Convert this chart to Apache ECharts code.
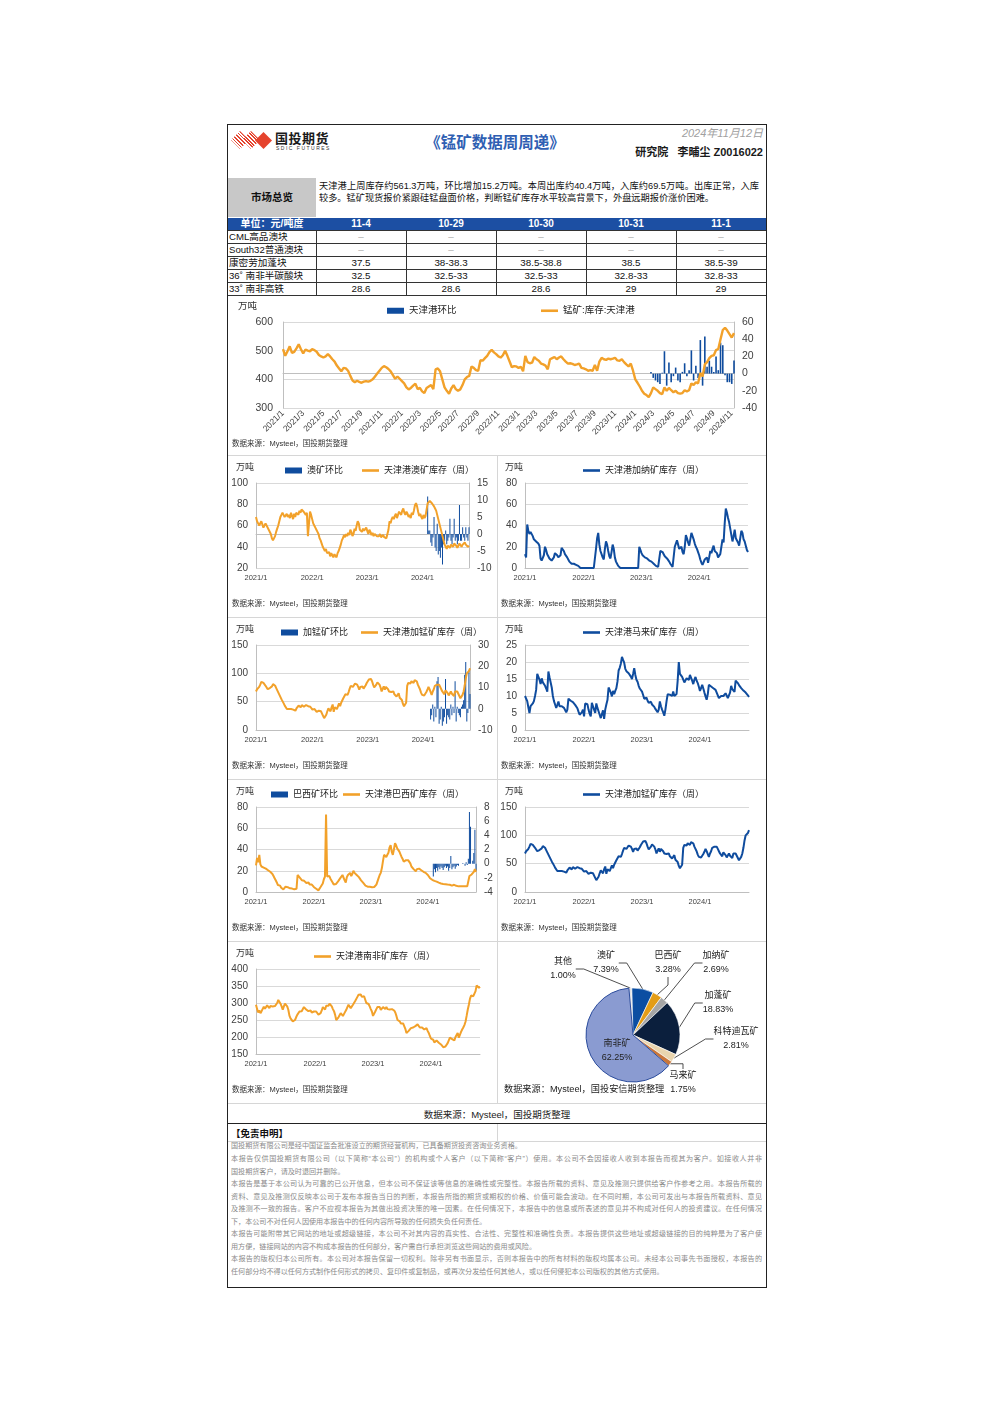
<!DOCTYPE html>
<html lang="zh-CN">
<head>
<meta charset="utf-8">
<title>锰矿数据周周递</title>
<script src="https://cdn.jsdelivr.net/npm/echarts@6.0.0/dist/echarts.min.js"></script>
<style>
html,body{margin:0;padding:0;background:#fff;}
body{width:992px;height:1403px;position:relative;font-family:"Liberation Sans","Noto Sans CJK SC",sans-serif;color:#111;overflow:hidden;}
.a{position:absolute;white-space:nowrap;}
.ch{position:absolute;}
.hl{position:absolute;height:1px;background:#d6d6d6;}
.vl{position:absolute;width:1px;background:#d6d6d6;}
.dl{position:absolute;left:231px;width:531px;font-size:7.1px;line-height:10px;height:10px;overflow:hidden;color:#8a8a8a;white-space:nowrap;}
.dj{text-align:justify;text-align-last:justify;white-space:normal;}
</style>
</head>
<body>
<div class="a" style="left:227px;top:124px;width:538px;height:1162px;border:1px solid #222;"></div>

<!-- header -->
<div class="a" style="left:231px;top:131px;width:18px;height:18px;background:repeating-linear-gradient(45deg,#e5432d 0 1.2px,#fff 1.2px 2.6px);clip-path:polygon(50% 0,100% 50%,50% 100%,0 50%);"></div>
<div class="a" style="left:242px;top:131px;width:18px;height:18px;background:repeating-linear-gradient(45deg,#e5432d 0 1.4px,#fff 1.4px 2.6px);clip-path:polygon(50% 0,100% 50%,50% 100%,0 50%);"></div>
<div class="a" style="left:255px;top:132px;width:17px;height:17px;background:#e5432d;clip-path:polygon(50% 0,100% 50%,50% 100%,0 50%);"></div>
<div class="a" style="left:275px;top:131px;font-size:13px;font-weight:bold;letter-spacing:0.5px;color:#1a1a1a;line-height:15px;">国投期货</div>
<div class="a" style="left:276px;top:146px;font-size:5px;letter-spacing:1.5px;color:#333;line-height:5px;">SDIC FUTURES</div>
<div class="a" style="left:395px;top:134px;width:200px;text-align:center;font-size:15.5px;font-weight:bold;color:#2f5fb3;line-height:18px;">《锰矿数据周周递》</div>
<div class="a" style="right:229px;top:126px;font-size:11px;font-style:italic;color:#a0a0a0;line-height:14px;">2024年11月12日</div>
<div class="a" style="right:229px;top:145px;font-size:11px;font-weight:bold;color:#1a1a1a;line-height:14px;">研究院&nbsp;&nbsp;&nbsp;李晡尘 Z0016022</div>

<!-- summary -->
<div class="a" style="left:228px;top:178px;width:88px;height:39px;background:#c8c8c8;"></div>
<div class="a" style="left:228px;top:190px;width:88px;text-align:center;font-size:10.5px;font-weight:bold;line-height:14px;">市场总览</div>
<div class="a" style="left:319px;top:180px;width:440px;font-size:9.2px;line-height:12px;text-align:justify;text-align-last:justify;white-space:normal;">天津港上周库存约561.3万吨，环比增加15.2万吨。本周出库约40.4万吨，入库约69.5万吨。出库正常，入库</div>
<div class="a" style="left:319px;top:192px;font-size:9.2px;line-height:12px;">较多。锰矿现货报价紧跟硅锰盘面价格，判断锰矿库存水平较高背景下，外盘远期报价涨价困难。</div>

<div id="tbl"></div>

<!-- cell grid lines -->
<div class="hl" style="left:228px;top:455px;width:538px;"></div>
<div class="hl" style="left:228px;top:617px;width:538px;"></div>
<div class="hl" style="left:228px;top:779px;width:538px;"></div>
<div class="hl" style="left:228px;top:941px;width:538px;"></div>
<div class="hl" style="left:228px;top:1103px;width:538px;"></div>
<div class="vl" style="left:497px;top:455px;height:648px;"></div>

<div id="c0" class="ch" style="left:228px;top:296px;width:537px;height:158px;"></div>
<div id="c1" class="ch" style="left:228px;top:456px;width:269px;height:160px;"></div>
<div id="c2" class="ch" style="left:498px;top:456px;width:267px;height:160px;"></div>
<div id="c3" class="ch" style="left:228px;top:618px;width:269px;height:160px;"></div>
<div id="c4" class="ch" style="left:498px;top:618px;width:267px;height:160px;"></div>
<div id="c5" class="ch" style="left:228px;top:780px;width:269px;height:160px;"></div>
<div id="c6" class="ch" style="left:498px;top:780px;width:267px;height:160px;"></div>
<div id="c7" class="ch" style="left:228px;top:942px;width:269px;height:160px;"></div>
<div id="c8" class="ch" style="left:498px;top:942px;width:267px;height:160px;"></div>

<!-- footer -->
<div class="a" style="left:228px;top:1108px;width:538px;text-align:center;font-size:9.5px;line-height:14px;color:#222;">数据来源：Mysteel，国投期货整理</div>
<div class="a" style="left:228px;top:1123px;width:538px;height:1px;background:#222;"></div>
<div class="vl" style="left:497px;top:1124px;height:17px;"></div>
<div class="hl" style="left:228px;top:1141px;width:538px;"></div>
<div class="a" style="left:231px;top:1127px;font-size:9.5px;font-weight:bold;line-height:14px;color:#111;">【免责申明】</div>
<div id="disc"></div>

<script>
// ---------------- data ----------------
const WEEK_START = Date.UTC(2021, 0, 1);
const WEEK_COUNT = 202;
const weeks = [];
for (let i = 0; i < WEEK_COUNT; i++) {
  const d = new Date(WEEK_START + i * 7 * 86400000);
  weeks.push(d.getUTCFullYear() + '-' + (d.getUTCMonth() + 1) + '-' + d.getUTCDate());
}

// 锰矿:库存:天津港 (万吨, weekly)
const tianjinStock = [
505,482,498,515,492,496,508,522,505,490,
504,500,498,505,502,496,485,480,476,480,
488,480,470,462,448,438,428,440,438,430,
412,396,390,395,391,388,392,394,392,395,
400,410,420,430,440,446,442,436,428,415,
402,410,402,394,386,372,365,370,378,385,
366,370,358,352,370,375,380,366,435,438,
428,400,372,360,350,368,380,366,360,365,
380,400,408,412,445,440,432,430,467,465,
474,482,495,503,494,488,480,476,484,500,
482,462,442,446,445,440,444,428,482,460,
456,458,478,470,465,455,452,448,435,470,
474,478,470,476,480,470,462,455,456,454,
450,452,455,440,438,435,430,432,430,450,
430,462,475,470,468,472,470,472,475,466,
465,470,460,452,445,455,430,400,388,375,
360,350,345,338,352,372,366,360,352,348,
372,360,370,362,355,360,352,350,352,362,
358,362,386,380,390,386,422,410,452,460,
474,482,484,502,506,540,572,580,570,558,
546,561];
// 天津港环比 (万吨), from week 2024-2-23
const tianjinChangeStart = '2024-2-23';
const tianjinChange = [
2,-5,-8,-10,-12,1,26,-14,13,-10,
-3,7,-8,-10,2,12,-3,4,27,-8,
9,-5,39,-14,43,8,15,8,2,20,
4,36,33,-2,-10,-10,-12,15.2];

// 天津港澳矿库存（周）
const auStock = [
68,64,62,60,59,64,61,58,57,62,
60,59,56,55,52,48,46,45,50,54,
57,60,64,68,70,72,70,68,69,71,
68,70,67,72,69,66,71,68,72,73,
70,74,72,75,76,73,74,70,72,50,
62,73,70,66,62,60,58,56,54,52,
48,46,43,40,38,36,38,34,33,35,
31,34,32,30,33,32,30,34,36,39,
42,46,48,51,49,52,50,53,51,56,
54,50,52,57,55,60,64,62,56,55,
54,57,55,56,58,55,52,56,54,51,
53,50,52,51,50,51,50,52,49,50,
51,49,50,48,49,56,64,62,66,68,
66,69,71,67,70,73,72,70,74,76,
72,70,73,71,68,70,67,72,70,74,
79,81,78,73,69,71,68,66,70,67,
69,70,81,80,83,84,81,80,78,76,
74,70,66,62,58,54,50,46,42,40,
38,41,40,39,42,41,40,43,42,41,
39,41,43,42,40,42,41,44,42,41,
40,41];
const auChangeStart = '2024-2-9';
const auChange = [
11,1,1,-2.5,-3.5,-1,5,-4,-5,3,
-6,-5,-7,-4,-9,-3,-2,1,-3,-2,
-1,4.5,-2,-3,-1,4.5,-2,-1,-3,-2,
8.5,-2,-2,2,-1,-2,2,-1,-2,2];

// 天津港加纳矿库存（周）
const ghStock = [
13,10,41,35,32,34,33,30,27,26,
25,25,23,21,9,7,8,12,20,17,
13,11,9,8,7,6,10,14,14,12,
10,9,12,19,18,16,13,12,10,8,
6,5,4,4,4,4,3,3,2,1,
0,0,0,0,0,0,0,0,0,0,
0,0,0,0,18,28,33,22,16,13,
10,8,18,25,22,16,11,9,15,22,
18,10,6,4,2,1,0,0,0,0,
0,0,0,0,0,0,0,0,0,0,
0,0,0,20,17,14,12,11,10,9,
9,8,7,7,6,5,4,3,2,1,
1,0,16,16,15,13,11,10,9,8,
6,4,3,1,0,20,19,26,22,18,
17,20,15,13,20,31,28,24,21,27,
33,30,27,23,20,18,15,12,8,5,
3,2,8,7,10,5,10,16,14,18,
21,16,15,14,10,9,13,20,27,24,
42,56,52,47,43,37,31,25,30,36,
28,27,24,21,28,35,33,27,25,21,
17,15];

// 天津港加锰矿库存（周）
const gabonStock = [
68,72,74,76,80,85,84,83,82,78,
75,72,71,74,76,77,81,83,78,74,
70,67,62,58,54,51,47,43,40,37,
39,37,35,37,38,36,35,34,38,41,
43,41,40,44,42,41,43,44,44,42,
40,41,38,36,38,37,35,32,30,34,
35,33,30,25,21,19,27,33,38,36,
33,40,45,32,40,42,37,39,47,42,
48,50,56,59,63,66,62,67,73,78,
80,76,78,82,85,80,76,71,76,78,
77,73,74,79,83,85,89,91,90,86,
80,75,76,80,84,86,80,75,68,73,
77,71,76,79,72,68,71,67,65,68,
63,61,59,62,65,57,55,53,46,42,
40,48,78,83,80,82,86,84,83,88,
91,86,80,77,72,66,62,59,61,62,
67,71,76,72,67,62,68,72,78,76,
80,83,80,76,72,68,65,63,70,68,
65,61,64,68,64,62,60,68,70,68,
64,60,56,58,62,68,78,91,100,97,
104,109];
const gabonChangeStart = '2024-2-23';
const gabonChange = [
-5,-3,2,-6,1,-4,13,15,-7,-5,
1,-8,-6,-4,14,-7,-3,-4,-5,2,
-3,1,-2,13,-6,1,-2,-3,-4,1,
2,4,16,22,-6,-2,18,7];

// 天津港马来矿库存（周）
const myStock = [
10,9.5,8.5,6.7,5,7,7.4,7.8,8.5,10,
11.8,16.5,16.8,14.8,13.5,15.2,14,14.5,13,12.2,
11.3,17.2,15.5,16,12.5,10,8.5,7.5,6.5,7.4,
8.4,7,6.5,7,6.8,6.5,6,5.2,6,9.2,
9,8.6,8.3,8.2,8,7.4,7,6.4,5.4,4.5,
4,5.2,6,4,7.8,7.6,7.6,6,4.8,4,
8,7,6,5,7.8,6.5,5.5,4.5,3.5,4,
5.8,3.3,6,7.5,8.8,12.5,12,11,9.9,11.5,
10.5,11.5,12.3,14.3,17.5,18.3,19.5,21.5,20.6,19.8,
18,17.3,17,16.7,16.2,15.7,15,16.5,18.2,16.2,
14.8,14.2,13,12.2,11.8,11.3,10.3,9.2,9.4,9.5,
8.6,8,7.8,8.3,7.5,7.2,6.8,6.2,5.9,5.2,
6,8.4,7,6,5.2,4.2,6,8.4,10.5,11,
10.4,9.9,10,11.3,10,9.8,10.6,14.5,20,16.5,
16.2,15.6,14.8,14,13.5,15.2,15.7,14.7,16.2,16.5,
14.5,13.5,14.8,15.6,14.5,13.8,12.7,11.5,12.3,13.3,
12.2,11,9.9,8.9,10.5,13.3,13,12.8,12.6,12.3,
12,11.8,11,10.2,9.4,9.4,10,10.3,10,10.5,
10.8,10.1,9.4,8.9,11,13,12,11.5,11.2,14.5,
14.3,13.8,13.2,12.8,12.3,12,11.6,11.2,11,10.6,
10.2,9.7];

// 天津港巴西矿库存（周）
const brStock = [
25,32,28,35,26,24,24,23,22.5,22,
21.5,20.5,19.5,19,19.5,17,15,13,11,9,
6.5,7.5,6,4,2.8,2.5,2.8,5,5,4.5,
4,3.5,2.8,3.2,3.3,2.5,2,3,16,14.5,
13.5,12,11,10,10.5,9,8.5,10,9,7,
8.5,7,6,4.5,4.7,3,2.5,1.5,3,4.7,
6,8,12,14.5,73,14.5,13.5,15,12.5,11.5,
9,7,6,7.5,9,10,11.5,13,14.5,16,
15,11,9,14,16,17,18,15,17,20,
18,17,16,14.5,14,13,11,10,8.5,7,
6,5.5,5,4.5,5,4.5,4.5,4,4.7,5.2,
7,8.5,13,16,18,22.5,29,35,35,33,
35,37,42,44,38,35,40,46,44,41,
40,38,35.5,33,31,28.5,29,30,31,30,
29,27,24,23,21.5,20.5,19.5,21.5,22.5,22,
21,20.5,20,19,18.5,18,17,16,14.5,13,
12,11.5,11,10.5,10,9.8,9.3,8.8,8.4,8,
7.8,7.6,7.4,7.3,7.2,7,7,6.8,6.4,6,
6.5,6.8,6,5.8,5.6,5.3,5.3,5.3,5.3,5.3,
5.3,5.3,5.5,5.3,6,15,16.5,16.5,17.5,19,
21.5,19];
const brChangeStart = '2024-2-9';
const brChange = [
-1.8,-0.8,-1.2,-0.6,-1.0,-0.5,-0.8,-0.4,-0.6,-0.9,
-0.5,-0.3,-0.6,-0.4,-1.0,-0.6,1.1,-0.8,-0.5,-0.3,
-0.7,-0.4,-0.2,-0.3,0,0,0,0.1,0,-0.3,
0.2,-0.2,0.7,7.3,5.2,0,0.4,1.5,4.8,-1.0];

// 天津港南非矿库存（周）
const zaStock = [
295,282,272,278,270,276,280,289,283,286,
293,288,285,291,294,290,293,291,288,300,
309,305,298,290,280,290,298,295,290,280,
263,255,250,246,242,250,258,265,270,275,
272,276,280,288,284,281,286,276,280,278,
272,268,275,280,275,270,266,262,270,278,
288,285,281,292,288,292,298,295,290,282,
276,265,250,254,258,264,270,275,262,268,
270,280,288,295,290,285,286,295,300,306,
310,318,324,328,325,318,315,320,322,300,
295,297,290,282,275,262,262,275,282,288,
284,288,280,285,288,284,282,288,282,280,
281,282,282,280,278,272,262,250,247,246,
240,236,240,238,224,212,207,218,222,226,
224,228,226,232,230,237,232,228,223,228,
232,222,225,226,218,212,203,195,198,192,
184,188,190,193,183,180,178,175,170,174,
172,176,182,190,198,196,194,192,190,200,
205,212,198,200,215,222,228,235,245,262,
280,295,312,322,325,320,318,335,352,348,
345,348];

// 天津港锰矿库存结构 (%)
const shareNames = ['其他','澳矿','巴西矿','加纳矿','加蓬矿','科特迪瓦矿','马来矿','南非矿'];
const shareValues = [1.00, 7.39, 3.28, 2.69, 18.83, 2.81, 1.75, 62.25];

// 价格表
const priceHeader = ['单位：元/吨度','11-4','10-29','10-30','10-31','11-1'];
const priceNames = ['CML高品澳块','South32普通澳块','康密劳加蓬块','36˚ 南非半碳酸块','33˚ 南非高铁'];
const priceCells = [
  ['–','–','–','–','–'],
  ['–','–','–','–','–'],
  ['37.5','38-38.3','38.5-38.8','38.5','38.5-39'],
  ['32.5','32.5-33','32.5-33','32.8-33','32.8-33'],
  ['28.6','28.6','28.6','29','29']
];

const disclaimer = [
  ['国投期货有限公司是经中国证监会批准设立的期货经营机构，已具备期货投资咨询业务资格。', false],
  ['本报告仅供国投期货有限公司（以下简称“本公司”）的机构或个人客户（以下简称“客户”）使用。本公司不会因接收人收到本报告而视其为客户。如接收人并非', true],
  ['国投期货客户，请及时退回并删除。', false],
  ['本报告是基于本公司认为可靠的已公开信息，但本公司不保证该等信息的准确性或完整性。本报告所载的资料、意见及推测只提供给客户作参考之用。本报告所载的', true],
  ['资料、意见及推测仅反映本公司于发布本报告当日的判断，本报告所指的期货或期权的价格、价值可能会波动。在不同时期，本公司可发出与本报告所载资料、意见', true],
  ['及推测不一致的报告。客户不应视本报告为其做出投资决策的唯一因素。在任何情况下，本报告中的信息或所表述的意见并不构成对任何人的投资建议。在任何情况', true],
  ['下，本公司不对任何人因使用本报告中的任何内容所导致的任何损失负任何责任。', false],
  ['本报告可能附带其它网站的地址或超级链接，本公司不对其内容的真实性、合法性、完整性和准确性负责。本报告提供这些地址或超级链接的目的纯粹是为了客户使', true],
  ['用方便，链接网站的内容不构成本报告的任何部分，客户需自行承担浏览这些网站的费用或风险。', false],
  ['本报告的版权归本公司所有。本公司对本报告保留一切权利。除非另有书面显示，否则本报告中的所有材料的版权均属本公司。未经本公司事先书面授权，本报告的', true],
  ['任何部分均不得以任何方式制作任何形式的拷贝、复印件或复制品，或再次分发给任何其他人，或以任何侵犯本公司版权的其他方式使用。', false]
];

// ---------------- table & disclaimer ----------------
(function buildTable() {
  const host = document.getElementById('tbl');
  const colX = [228, 316, 406, 496, 586, 676, 766];
  const top0 = 218, rowH = 13;
  let html = '<div class="a" style="left:228px;top:' + top0 + 'px;width:538px;height:' + (rowH - 1) + 'px;background:#1c4fa3;"></div>';
  priceHeader.forEach((t, c) => {
    html += '<div class="a" style="left:' + colX[c] + 'px;top:' + top0 + 'px;width:' + (colX[c + 1] - colX[c]) + 'px;text-align:center;font-size:10px;font-weight:bold;color:#fff;line-height:12px;">' + t + '</div>';
  });
  for (let r = 0; r < priceNames.length; r++) {
    const y = top0 + rowH * (r + 1) - 1;
    html += '<div class="a" style="left:228px;top:' + y + 'px;width:538px;height:1px;background:#333;"></div>';
    html += '<div class="a" style="left:229px;top:' + (y + 1) + 'px;font-size:9.6px;line-height:12px;color:#111;">' + priceNames[r] + '</div>';
    priceCells[r].forEach((t, c) => {
      const dash = t === '–';
      html += '<div class="a" style="left:' + colX[c + 1] + 'px;top:' + (y + 1) + 'px;width:' + (colX[c + 2] - colX[c + 1]) + 'px;text-align:center;font-size:9.8px;line-height:12px;color:' + (dash ? '#aaa' : '#111') + ';">' + t + '</div>';
    });
  }
  const yEnd = top0 + rowH * (priceNames.length + 1) - 1;
  html += '<div class="a" style="left:228px;top:' + yEnd + 'px;width:538px;height:1px;background:#333;"></div>';
  for (let c = 1; c < 6; c++) {
    html += '<div class="a" style="left:' + colX[c] + 'px;top:' + (top0 + rowH - 1) + 'px;width:1px;height:' + (yEnd - top0 - rowH + 1) + 'px;background:#333;"></div>';
  }
  host.innerHTML = html;
})();
(function buildDisclaimer() {
  const host = document.getElementById('disc');
  const tops = [1141, 1154, 1166.5, 1179, 1191.5, 1204, 1216.5, 1229, 1241.5, 1254, 1266.5];
  host.innerHTML = disclaimer.map((d, i) =>
    '<div class="dl' + (d[1] ? ' dj' : '') + '" style="top:' + tops[i] + 'px;">' + d[0] + '</div>').join('');
})();

// ---------------- charts ----------------
const FONT = '"Liberation Sans","Noto Sans CJK SC",sans-serif';
const ORANGE = '#F2A12A', BLUE = '#0F4C9E', GRIDC = '#d9d9d9', AXISC = '#bfbfbf', LABC = '#404040';
const SRC = '数据来源：Mysteel，国投期货整理';

function parseWeek(v) { const p = v.split('-'); return { y: +p[0], m: +p[1], d: +p[2] }; }
function fmtMonth(v) { const t = parseWeek(v); return t.y + '/' + t.m; }
function alignToWeeks(startWeek, values) {
  const s = weeks.indexOf(startWeek);
  return weeks.map((w, k) => (k >= s && k - s < values.length) ? values[k - s] : null);
}
function valueAxis(min, max, step, side, showSplit, fs, margin) {
  return {
    type: 'value', position: side, min: min, max: max, interval: step,
    axisLine: { show: true, lineStyle: { color: AXISC, width: 1 } },
    axisTick: { show: false },
    splitLine: { show: showSplit, lineStyle: { color: GRIDC, width: 1 } },
    axisLabel: { fontSize: fs, color: LABC, margin: margin, fontFamily: FONT }
  };
}
function titles(unitLeft, unitTop, srcLeft, srcTop, unitSize) {
  return [
    { text: '万吨', left: unitLeft, top: unitTop, padding: 0, textStyle: { fontSize: unitSize || 9, fontWeight: 'normal', color: '#333', fontFamily: FONT } },
    { text: SRC, left: srcLeft, top: srcTop, padding: 0, textStyle: { fontSize: 7.5, fontWeight: 'normal', color: '#333', fontFamily: FONT } }
  ];
}
function legendBlock(name, left, top, isBar, fs) {
  return {
    top: top, left: left, padding: 0, itemWidth: 17, itemHeight: isBar ? 6 : 2.6,
    textStyle: { fontSize: fs, color: '#222', fontFamily: FONT },
    data: [{ name: name, icon: 'rect' }]
  };
}

// main chart
(function () {
  const c = echarts.init(document.getElementById('c0'), null, { renderer: 'canvas' });
  c.setOption({
    animation: false,
    textStyle: { fontFamily: FONT },
    title: titles(10, 6, 4, 144, 9.5),
    legend: [legendBlock('天津港环比', 159, 10, true, 9.5), legendBlock('锰矿:库存:天津港', 313, 10, false, 9.5)],
    grid: { left: 55, right: 31, top: 26, bottom: 46, containLabel: false, outerBoundsMode: 'none' },
    xAxis: {
      type: 'category', data: weeks, boundaryGap: false,
      axisTick: { show: false }, axisLine: { show: true, lineStyle: { color: AXISC } },
      axisLabel: {
        interval: (i, v) => { const t = parseWeek(v); return t.d <= 7 && t.m % 2 === 1; },
        formatter: fmtMonth, rotate: 45, fontSize: 8.5, color: LABC, margin: 4, fontFamily: FONT
      }
    },
    yAxis: [valueAxis(300, 600, 100, 'left', true, 10.5, 10), valueAxis(-40, 60, 20, 'right', false, 10.5, 8)],
    series: [
      { name: '天津港环比', type: 'bar', yAxisIndex: 1, data: alignToWeeks(tianjinChangeStart, tianjinChange), itemStyle: { color: BLUE }, barWidth: 1.6 },
      { name: '锰矿:库存:天津港', type: 'line', yAxisIndex: 0, data: tianjinStock, symbol: 'none', lineStyle: { color: ORANGE, width: 2.4 }, itemStyle: { color: ORANGE }, z: 5 }
    ]
  });
})();

function smallChart(id, o) {
  const c = echarts.init(document.getElementById(id), null, { renderer: 'canvas' });
  const series = [], legends = [];
  const yAxes = [valueAxis(o.left[0], o.left[1], o.left[2], 'left', true, 10, 8)];
  if (o.bar) {
    yAxes.push(valueAxis(o.right[0], o.right[1], o.right[2], 'right', false, 10, 8));
    series.push({ name: o.bar.name, type: 'bar', yAxisIndex: 1, data: alignToWeeks(o.bar.start, o.bar.values), itemStyle: { color: BLUE }, barWidth: 1 });
    legends.push(legendBlock(o.bar.name, o.barLegend, 10, true, 9));
  }
  series.push({ name: o.line.name, type: 'line', yAxisIndex: 0, data: o.line.values, symbol: 'none', lineStyle: { color: o.line.color, width: 2 }, itemStyle: { color: o.line.color }, z: 5 });
  legends.push(legendBlock(o.line.name, o.lineLegend, 10, false, 9));
  c.setOption({
    animation: false,
    textStyle: { fontFamily: FONT },
    title: titles(o.unitLeft, 7, o.srcLeft, 144),
    legend: legends,
    grid: { left: o.grid[0], right: o.grid[1], top: 27, bottom: 48, containLabel: false, outerBoundsMode: 'none' },
    xAxis: {
      type: 'category', data: weeks, boundaryGap: false,
      axisTick: { show: false }, axisLine: { show: true, lineStyle: { color: AXISC } },
      axisLabel: {
        interval: (i, v) => { const t = parseWeek(v); return t.d <= 7 && t.m === 1; },
        formatter: fmtMonth, fontSize: 7.5, color: LABC, margin: 6, fontFamily: FONT
      }
    },
    yAxis: yAxes,
    series: series
  });
}

smallChart('c1', { unitLeft: 8, srcLeft: 4, barLegend: 57, lineLegend: 134, grid: [28, 28], left: [20, 100, 20], right: [-10, 15, 5],
  bar: { name: '澳矿环比', start: auChangeStart, values: auChange },
  line: { name: '天津港澳矿库存（周）', values: auStock, color: ORANGE } });
smallChart('c2', { unitLeft: 7, srcLeft: 3, lineLegend: 85, grid: [27, 17], left: [0, 80, 20],
  line: { name: '天津港加纳矿库存（周）', values: ghStock, color: BLUE } });
smallChart('c3', { unitLeft: 8, srcLeft: 4, barLegend: 53, lineLegend: 133, grid: [28, 27], left: [0, 150, 50], right: [-10, 30, 10],
  bar: { name: '加锰矿环比', start: gabonChangeStart, values: gabonChange },
  line: { name: '天津港加锰矿库存（周）', values: gabonStock, color: ORANGE } });
smallChart('c4', { unitLeft: 7, srcLeft: 3, lineLegend: 85, grid: [27, 16], left: [0, 25, 5],
  line: { name: '天津港马来矿库存（周）', values: myStock, color: BLUE } });
smallChart('c5', { unitLeft: 8, srcLeft: 4, barLegend: 43, lineLegend: 115, grid: [28, 21], left: [0, 80, 20], right: [-4, 8, 2],
  bar: { name: '巴西矿环比', start: brChangeStart, values: brChange },
  line: { name: '天津港巴西矿库存（周）', values: brStock, color: ORANGE } });
smallChart('c6', { unitLeft: 7, srcLeft: 3, lineLegend: 85, grid: [27, 16], left: [0, 150, 50],
  line: { name: '天津港加锰矿库存（周）', values: gabonStock, color: BLUE } });
smallChart('c7', { unitLeft: 8, srcLeft: 4, lineLegend: 86, grid: [28, 17], left: [150, 400, 50],
  line: { name: '天津港南非矿库存（周）', values: zaStock, color: ORANGE } });

// pie
(function () {
  const c = echarts.init(document.getElementById('c8'), null, { renderer: 'canvas' });
  const colors = ['#e4e4e4', '#0b4ea2', '#e39d17', '#a6a6a6', '#0b1f3d', '#e9d5ae', '#c9763a', '#8a9bd1'];
  const labelPos = [[65, 27], [108, 21], [170, 21], [218, 21], [220, 61], [238, 97], [185, 141], [119, 109]];
  c.setOption({
    animation: false,
    textStyle: { fontFamily: FONT },
    title: { text: '数据来源：Mysteel，国投安信期货整理', left: 6, top: 143, padding: 0, textStyle: { fontSize: 9.2, fontWeight: 'normal', color: '#222', fontFamily: FONT } },
    series: [{
      type: 'pie', center: [135, 93], radius: 47, startAngle: 95, clockwise: true,
      avoidLabelOverlap: false,
      data: shareNames.map((n, i) => ({
        name: n, value: shareValues[i],
        itemStyle: { color: colors[i], borderColor: i === 7 ? '#2b4c9c' : '#ffffff', borderWidth: i === 7 ? 1 : 0.6 },
        labelLine: { show: i !== 7 }
      })),
      label: {
        show: true, fontSize: 9, color: '#222', lineHeight: 14, fontFamily: FONT,
        formatter: p => p.name + '\n' + p.value.toFixed(2) + '%'
      },
      labelLine: { show: true, length: 8, length2: 8, lineStyle: { color: '#222', width: 0.8 } },
      labelLayout: p => ({ x: labelPos[p.dataIndex][0], y: labelPos[p.dataIndex][1], align: 'center', verticalAlign: 'middle' })
    }]
  });
})();
</script>
</body>
</html>
